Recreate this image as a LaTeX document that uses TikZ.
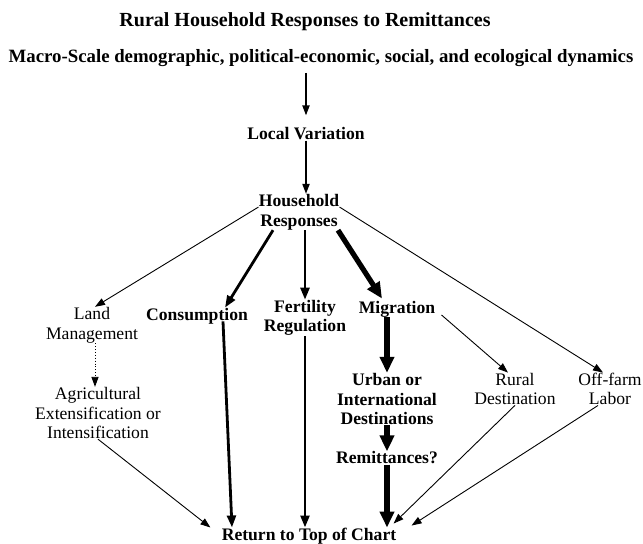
\documentclass[tikz,border=0pt]{standalone}
\usepackage{fontspec}
\setmainfont{Liberation Serif}
\usetikzlibrary{arrows.meta, calc}

\tikzset{
  txt/.style={inner sep=0pt, align=center, font=\fontsize{8.8}{9.8}\selectfont},
  btxt/.style={inner sep=0pt, align=center, font=\fontsize{8.8}{9.8}\selectfont\bfseries},
  thinarr/.style={line width=0.45pt, -{Triangle[length=5pt, width=3.6pt]}},
  midarr/.style={line width=0.75pt, -{Triangle[length=5pt, width=3.6pt]}},
  boldarr/.style={line width=1.4pt, -{Triangle[length=6pt, width=4.4pt]}},
  heavyarr/.style={line width=2.6pt, -{Triangle[length=8pt, width=7pt]}},
}

\begin{document}
\begin{tikzpicture}[x=0.5pt, y=-0.5pt]
  \useasboundingbox (0,0) rectangle (643,544);
  \node[btxt, font=\fontsize{10}{12}\selectfont\bfseries] (title) at (305,22) {Rural Household Responses to Remittances};
  \node[btxt, font=\fontsize{9.4}{11}\selectfont\bfseries] (macro) at (321,58) {Macro-Scale demographic, political-economic, social, and ecological dynamics};
  \node[btxt] (local) at (306,134) {Local Variation};
  \node[btxt] (hh) at (299,212) {Household\\Responses};
  \node[txt] (land) at (92,325) {Land\\Management};
  \node[btxt] (cons) at (197,316) {Consumption};
  \node[btxt] (fert) at (305,318) {Fertility\\Regulation};
  \node[btxt] (migr) at (397,309) {Migration};
  \node[txt] (agri) at (98,413) {Agricultural\\Extensification or\\Intensification};
  \node[btxt] (urban) at (387,399) {Urban or\\International\\Destinations};
  \node[txt] (rural) at (515,389) {Rural\\Destination};
  \node[txt] (off) at (610,389) {Off-farm\\Labor};
  \node[btxt] (remit) at (387,458) {Remittances?};
  \node[btxt] (ret) at (309,536) {Return to Top of Chart};

  % top of chart
  \draw[midarr, shorten <=3pt, shorten >=6pt] (macro.south -| local) -- (local.north);
  \draw[midarr] (local.south) -- (local.south |- hh.north);

  % household responses
  \draw[thinarr] (hh.173) -- ($(land.north)+(3,0)$);
  \draw[boldarr] (hh.215) -- ($(cons.north)+(28,0)$);
  \draw[boldarr] (hh.south -| fert) -- (fert.north);
  \draw[heavyarr] (hh.335) -- ($(migr.north)+(-15,-2)$);
  \draw[thinarr] (hh.7) -- ($(off.north)+(-7,0)$);

  \draw[thinarr, densely dotted] ($(land.south)+(3,0)$) -- ($(land.south |- agri.north)+(3,0)$);
  \draw[thinarr] ($(migr.east)+(6,6)$) -- ($(rural.north)+(-7,0)$);
  \draw[heavyarr] (migr.south -| urban) -- (urban.north);
  \draw[heavyarr] (urban.south) -- (remit.north);

  % back to the top
  \draw[thinarr] (agri.south) -- ($(ret.north west)+(-11,0)$);
  \draw[boldarr] ($(cons.south)+(26,-3)$) -- ($(ret.north)+(-77,0)$);
  \draw[boldarr] (fert.south) -- (fert.south |- ret.north);
  \draw[heavyarr] (remit.south) -- (remit.south |- ret.north);
  \draw[thinarr] (rural.south) -- ($(ret.north east)+(-3,-4)$);
  \draw[thinarr] ($(off.south)+(-12,0)$) -- ($(ret.north east)+(15,-2)$);
\end{tikzpicture}
\end{document}
